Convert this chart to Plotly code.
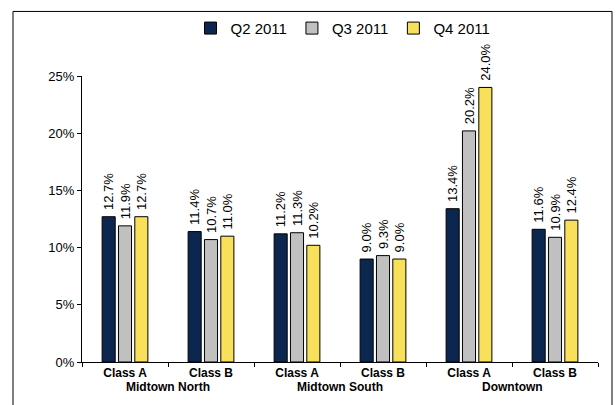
import plotly.graph_objects as go

categories = ["MN-A", "MN-B", "MS-A", "MS-B", "DT-A", "DT-B"]
tick_labels = ["Class A", "Class B", "Class A", "Class B", "Class A", "Class B"]
group_labels = ["Midtown North", "Midtown South", "Downtown"]
group_positions = [0.5, 2.5, 4.5]

series_names = ["Q2 2011", "Q3 2011", "Q4 2011"]
q2_2011 = [12.7, 11.4, 11.2, 9.0, 13.4, 11.6]
q3_2011 = [11.9, 10.7, 11.3, 9.3, 20.2, 10.9]
q4_2011 = [12.7, 11.0, 10.2, 9.0, 24.0, 12.4]
colors = ["#0b2750", "#c0c0c0", "#f8e05a"]

FONT = "Arial, Liberation Sans, sans-serif"

fig = go.Figure()
for name, vals, col in zip(series_names, [q2_2011, q3_2011, q4_2011], colors):
    fig.add_trace(go.Bar(
        x=categories, y=vals, name=name,
        marker=dict(color=col, line=dict(color="black", width=1)),
        texttemplate="\u00a0%{y:.1f}%", textposition="outside", textangle=-90,
        constraintext="none", cliponaxis=False,
        textfont=dict(family=FONT, size=13, color="#000"),
    ))

W, H = 616, 405
L, R, T, B = 82, 18, 74, 43
pw, ph = W - L - R, H - T - B

annotations = []
for g, p in zip(group_labels, group_positions):
    annotations.append(dict(
        x=p, xref="x", y=-(387 - (H - B)) / ph, yref="paper",
        text="<b>%s</b>" % g, showarrow=False, yanchor="middle",
        font=dict(family=FONT, size=12, color="#000"),
    ))

fig.update_layout(
    width=W, height=H,
    margin=dict(l=L, r=R, t=T, b=B),
    paper_bgcolor="white", plot_bgcolor="white",
    barmode="group", bargap=0.43, bargroupgap=0.2,
    font=dict(family=FONT, color="#000"),
    legend=dict(
        orientation="h", x=(343 - L) / pw, xanchor="center",
        y=1 + (T - 26) / ph, yanchor="middle",
        font=dict(family=FONT, size=15, color="#000"),
        itemwidth=30, bgcolor="rgba(0,0,0,0)",
    ),
    xaxis=dict(
        type="category", tickmode="array", tickvals=categories, ticktext=tick_labels,
        tickson="boundaries", ticks="outside", ticklen=4, tickcolor="black",
        showline=True, linecolor="black", linewidth=1, showgrid=False,
        tickfont=dict(family=FONT, size=12, color="#000", weight="bold"),
    ),
    yaxis=dict(
        range=[0, 25], dtick=5, ticksuffix="%", ticks="outside", ticklen=4,
        tickcolor="black", showline=True, linecolor="black", linewidth=1,
        showgrid=False, zeroline=False,
        tickfont=dict(family=FONT, size=13, color="#000"),
    ),
    annotations=annotations,
    shapes=[dict(
        type="rect", xref="paper", yref="paper",
        x0=(13 - L) / pw, x1=(612 - L) / pw,
        y0=-(420 - (H - B)) / ph, y1=1 + (T - 9) / ph,
        line=dict(color="black", width=1), fillcolor="rgba(0,0,0,0)", layer="below",
    )],
)

fig.write_html("out.html")
